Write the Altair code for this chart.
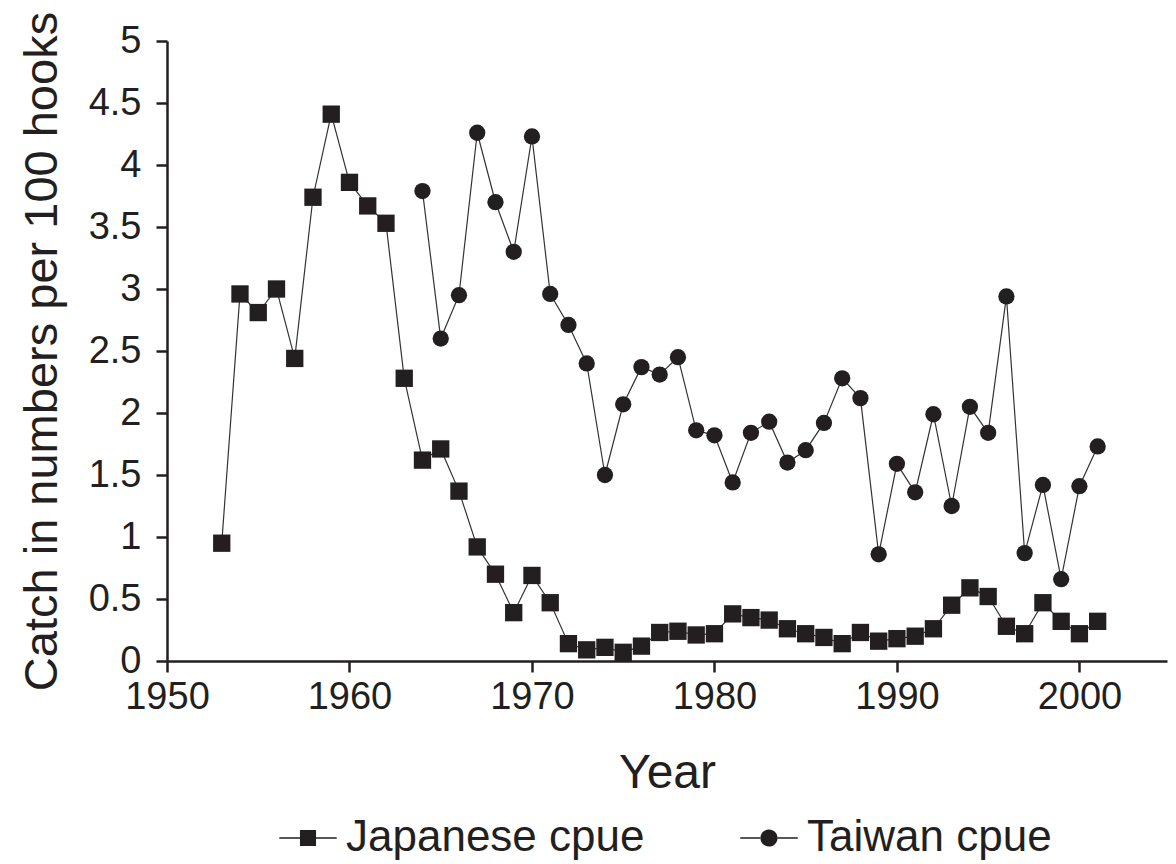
import altair as alt
import pandas as pd

# ---- data ----
jp_years = list(range(1953, 2002))
jp_cpue = [0.95, 2.96, 2.81, 3.00, 2.44, 3.74, 4.41, 3.86, 3.67, 3.53,
           2.28, 1.62, 1.71, 1.37, 0.92, 0.70, 0.39, 0.69, 0.47, 0.14,
           0.09, 0.11, 0.07, 0.12, 0.23, 0.24, 0.21, 0.22, 0.38, 0.35,
           0.33, 0.26, 0.22, 0.19, 0.14, 0.23, 0.16, 0.18, 0.20, 0.26,
           0.45, 0.59, 0.52, 0.28, 0.22, 0.47, 0.32, 0.22, 0.32]
tw_years = list(range(1964, 2002))
tw_cpue = [3.79, 2.60, 2.95, 4.26, 3.70, 3.30, 4.23, 2.96, 2.71, 2.40,
           1.50, 2.07, 2.37, 2.31, 2.45, 1.86, 1.82, 1.44, 1.84, 1.93,
           1.60, 1.70, 1.92, 2.28, 2.12, 0.86, 1.59, 1.36, 1.99, 1.25,
           2.05, 1.84, 2.94, 0.87, 1.42, 0.66, 1.41, 1.73]
series_names = ["Japanese cpue", "Taiwan cpue"]
x_ticks = [1950, 1960, 1970, 1980, 1990, 2000]
y_ticks = [0, 0.5, 1, 1.5, 2, 2.5, 3, 3.5, 4, 4.5, 5]

df = pd.concat([
    pd.DataFrame({"year": jp_years, "cpue": jp_cpue, "series": series_names[0]}),
    pd.DataFrame({"year": tw_years, "cpue": tw_cpue, "series": series_names[1]}),
], ignore_index=True)

FONT = "Liberation Sans, Arial, Helvetica, sans-serif"
INK = "#231f20"

x_enc = alt.X(
    "year:Q",
    scale=alt.Scale(domain=[1950, 2004.8], nice=False, zero=False),
    axis=alt.Axis(values=x_ticks, format="d", title="Year", labelPadding=6,
                  titlePadding=33, titleFontSize=48),
)
y_enc = alt.Y(
    "cpue:Q",
    scale=alt.Scale(domain=[0, 5], nice=False),
    axis=alt.Axis(values=y_ticks, format="~g",
                  title="Catch in numbers per 100 hooks",
                  labelPadding=15, titlePadding=22, titleFontSize=47),
)

base = alt.Chart(df)

lines = base.mark_line(color="#333333", strokeWidth=1.2).encode(
    x=x_enc, y=y_enc, detail="series:N"
)
jp_pts = base.transform_filter(alt.datum.series == series_names[0]).mark_point(
    shape="square", size=300, filled=True, color=INK, opacity=1
).encode(x=x_enc, y=y_enc)
tw_pts = base.transform_filter(alt.datum.series == series_names[1]).mark_point(
    shape="circle", size=265, filled=True, color=INK, opacity=1
).encode(x=x_enc, y=y_enc)

# legend glyphs: a thin line with the marker in the middle (filled outlines)
SQ_PATH = ("M-1,-0.03H-0.28V0.03H-1Z M0.28,-0.03H1V0.03H0.28Z "
           "M-0.28,-0.28H0.28V0.28H-0.28Z")
CI_PATH = ("M-1,-0.03H-0.29V0.03H-1Z M0.29,-0.03H1V0.03H0.29Z "
           "M-0.3,0A0.3,0.3 0 1,0 0.3,0A0.3,0.3 0 1,0 -0.3,0Z")

legend_layer = base.transform_filter("false").mark_point(
    filled=True, fill=INK, opacity=1, size=3300
).encode(
    x=x_enc, y=y_enc,
    shape=alt.Shape(
        "series:N",
        scale=alt.Scale(domain=series_names, range=[SQ_PATH, CI_PATH]),
        legend=alt.Legend(
            title=None, orient="none", direction="horizontal", columns=2,
            legendX=112, legendY=768, columnPadding=95,
            symbolSize=3300, symbolFillColor=INK,
            symbolStrokeWidth=0, symbolOpacity=1,
            labelFontSize=44, labelFont=FONT, labelColor=INK,
            labelOffset=9, labelLimit=0,
        ),
    ),
)

chart = alt.layer(lines, jp_pts, tw_pts, legend_layer).properties(
    width=1000, height=620,
    background="white",
    autosize=alt.AutoSizeParams(type="none"),
    padding={"left": 159, "top": 33, "right": 1, "bottom": 200},
).configure_view(stroke=None).configure_axis(
    grid=False, domainColor=INK, domainWidth=2.5, tickColor=INK, tickWidth=2.5,
    tickSize=11, labelFont=FONT, labelFontSize=38, labelColor=INK,
    titleFont=FONT, titleColor=INK, titleFontWeight="normal",
).configure_axisX(labelFlush=False)

chart.save("out.html", embed_options={"renderer": "svg", "actions": False})
